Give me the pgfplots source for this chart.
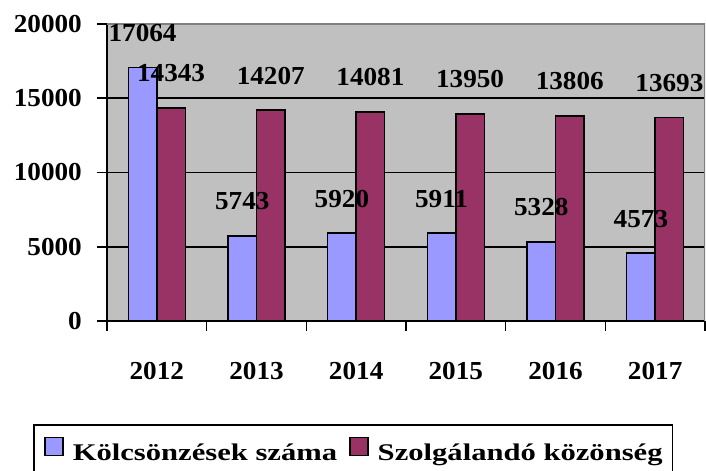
\documentclass[border=0pt]{standalone}
\usepackage{fontspec}
\setmainfont{Liberation Serif}[FakeStretch=1.05]
\newfontfamily\legfont{Liberation Serif}[FakeStretch=1.28]
\usepackage{pgfplots}
\pgfplotsset{compat=1.18}
\definecolor{cblue}{HTML}{9999FF}
\definecolor{cmaroon}{HTML}{993366}
\definecolor{cbg}{HTML}{C0C0C0}
\definecolor{cframe}{HTML}{808080}
\newcommand{\cf}{\fontsize{26}{30}\selectfont\bfseries}
\newcommand{\lf}{\legfont\fontsize{24}{28}\selectfont\bfseries}
\begin{document}
\begin{tikzpicture}[x=1bp,y=1bp]
\useasboundingbox (0,0) rectangle (706,471);
\begin{axis}[
  at={(107bp,150bp)}, anchor=south west,
  width=598bp, height=297bp, scale only axis,
  xmin=-0.5, xmax=5.5, ymin=0, ymax=20000,
  scaled y ticks=false,
  axis x line*=bottom, axis y line*=left,
  axis line style={-, black, line width=1.6bp},
  axis background/.style={fill=cbg},
  /pgf/number format/assume math mode=true,
  /pgf/number format/1000 sep={},
  ytick={0,5000,10000,15000,20000},
  ymajorgrids, grid style={black, line width=1.6bp},
  xtick={-0.5,0.5,1.5,2.5,3.5,4.5,5.5},
  xticklabels={},
  extra x ticks={0,1,2,3,4,5},
  extra x tick labels={2012,2013,2014,2015,2016,2017},
  extra x tick style={major tick length=0pt, grid=none,
    xticklabel style={anchor=north, inner sep=0pt, yshift=-41bp}},
  tick align=outside, major tick length=10bp,
  tick style={black, line width=1.6bp},
  yticklabel style={anchor=east, inner sep=0pt, xshift=-15bp},
  tick label style={font=\cf},
  nodes near coords,
  nodes near coords style={anchor=base, inner sep=0pt, yshift=26bp, font=\cf, text=black},
  legend columns=2,
  legend style={at={(axis description cs:0.412,-0.3468)}, anchor=north,
    draw=black, line width=1.6bp, fill=white, font=\lf,
    inner xsep=10bp, inner ysep=12bp,
    nodes={inner sep=0pt},
    /tikz/every odd column/.append style={column sep=9bp},
    /tikz/every even column/.append style={column sep=12bp}},
  legend image code/.code={\draw[#1, draw=black, line width=1.6bp] (0bp,-3bp) rectangle (18bp,15bp);},
]
\addplot[ybar, bar width=0.286, bar shift=0pt, fill=cblue, draw=black, line width=1.6bp]
  coordinates {(-0.143,17064)(0.857,5743)(1.857,5920)(2.857,5911)(3.857,5328)(4.857,4573)};
\addlegendentry{Kölcsönzések száma}
\addplot[ybar, bar width=0.286, bar shift=0pt, fill=cmaroon, draw=black, line width=1.6bp]
  coordinates {(0.143,14343)(1.143,14207)(2.143,14081)(3.143,13950)(4.143,13806)(5.143,13693)};
\addlegendentry{Szolgálandó közönség}
\draw[cframe, line width=2bp] (rel axis cs:0,1) -- (rel axis cs:1,1) -- (rel axis cs:1,0);
\end{axis}
\end{tikzpicture}
\end{document}
